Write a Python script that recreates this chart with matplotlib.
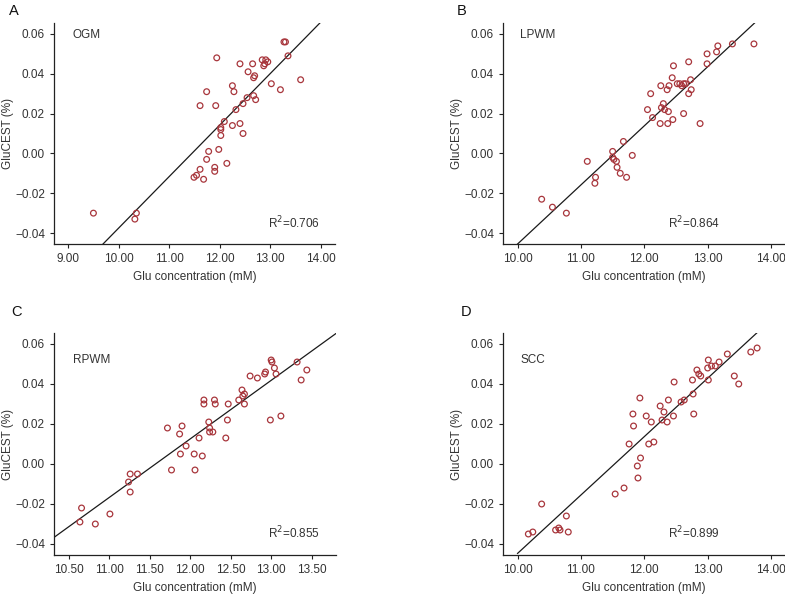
import matplotlib
matplotlib.use('Agg')
import matplotlib.pyplot as plt
import numpy as np

# panel A - OGM
ogm_x = [9.50, 10.35, 10.32, 11.49, 11.54, 11.61, 11.68, 11.74, 11.78, 11.90, 11.90, 11.98,
         12.14, 12.02, 12.02, 12.02, 12.09, 12.25, 12.40, 12.46, 12.46, 12.32, 12.54, 12.67,
         12.71, 11.61, 11.92, 11.74, 12.28, 12.25, 11.94, 12.40, 12.65, 12.56, 12.67, 12.69,
         12.84, 12.91, 12.87, 12.89, 12.95, 13.02, 13.20, 13.27, 13.30, 13.35, 13.60]
ogm_y = [-0.030, -0.030, -0.033, -0.012, -0.011, -0.008, -0.013, -0.003, 0.001, -0.007, -0.009, 0.002,
         -0.005, 0.009, 0.012, 0.013, 0.016, 0.014, 0.015, 0.010, 0.025, 0.022, 0.028, 0.029,
         0.027, 0.024, 0.024, 0.031, 0.031, 0.034, 0.048, 0.045, 0.045, 0.041, 0.038, 0.039,
         0.047, 0.047, 0.044, 0.045, 0.046, 0.035, 0.032, 0.056, 0.056, 0.049, 0.037]

# panel B - LPWM
lpwm_x = [10.38, 10.55, 10.77, 11.10, 11.23, 11.22, 11.50, 11.50, 11.52, 11.56, 11.57, 11.62,
          11.72, 11.67, 11.81, 12.05, 12.10, 12.13, 12.25, 12.26, 12.27, 12.30, 12.32, 12.36,
          12.37, 12.39, 12.38, 12.44, 12.45, 12.46, 12.52, 12.56, 12.59, 12.62, 12.65, 12.62,
          12.70, 12.70, 12.73, 12.74, 12.88, 12.99, 12.99, 13.14, 13.16, 13.39, 13.73]
lpwm_y = [-0.023, -0.027, -0.030, -0.004, -0.012, -0.015, 0.001, -0.002, -0.003, -0.004, -0.007, -0.010,
          -0.012, 0.006, -0.001, 0.022, 0.030, 0.018, 0.015, 0.034, 0.023, 0.025, 0.022, 0.032,
          0.015, 0.034, 0.021, 0.038, 0.017, 0.044, 0.035, 0.035, 0.034, 0.035, 0.035, 0.020,
          0.046, 0.030, 0.037, 0.032, 0.015, 0.050, 0.045, 0.051, 0.054, 0.055, 0.055]

# panel C - RPWM
rpwm_x = [10.64, 10.66, 10.83, 11.01, 11.24, 11.26, 11.26, 11.35, 11.72, 11.77, 11.87, 11.88,
          11.90, 11.95, 12.05, 12.06, 12.11, 12.15, 12.17, 12.17, 12.23, 12.24, 12.24, 12.28,
          12.30, 12.31, 12.44, 12.46, 12.47, 12.60, 12.64, 12.65, 12.67, 12.67, 12.74, 12.83,
          12.92, 12.93, 12.99, 13.00, 13.01, 13.04, 13.06, 13.12, 13.32, 13.37, 13.44]
rpwm_y = [-0.029, -0.022, -0.030, -0.025, -0.009, -0.005, -0.014, -0.005, 0.018, -0.003, 0.015, 0.005,
          0.019, 0.009, 0.005, -0.003, 0.013, 0.004, 0.032, 0.030, 0.021, 0.018, 0.016, 0.016,
          0.032, 0.030, 0.013, 0.022, 0.030, 0.032, 0.037, 0.034, 0.035, 0.030, 0.044, 0.043,
          0.045, 0.046, 0.022, 0.052, 0.051, 0.048, 0.045, 0.024, 0.051, 0.042, 0.047]

# panel D - SCC
scc_x = [10.17, 10.24, 10.38, 10.60, 10.65, 10.67, 10.77, 10.80, 11.54, 11.68, 11.76, 11.82,
         11.83, 11.89, 11.90, 11.93, 11.94, 12.03, 12.07, 12.11, 12.15, 12.25, 12.28, 12.31,
         12.36, 12.38, 12.46, 12.47, 12.58, 12.63, 12.76, 12.77, 12.78, 12.83, 12.86, 12.89,
         13.00, 13.01, 13.01, 13.06, 13.12, 13.18, 13.31, 13.42, 13.49, 13.68, 13.78]
scc_y = [-0.035, -0.034, -0.020, -0.033, -0.032, -0.033, -0.026, -0.034, -0.015, -0.012, 0.010, 0.025,
         0.019, -0.001, -0.007, 0.033, 0.003, 0.024, 0.010, 0.021, 0.011, 0.029, 0.022, 0.026,
         0.021, 0.032, 0.024, 0.041, 0.031, 0.032, 0.042, 0.035, 0.025, 0.047, 0.045, 0.044,
         0.048, 0.042, 0.052, 0.049, 0.049, 0.051, 0.055, 0.044, 0.040, 0.056, 0.058]

# fit lines: (slope, value at x0, x0)
fits = [(0.02587, -0.0455, 9.69), (0.02968, -0.0455, 10.00),
        (0.0293, -0.0367, 10.32), (0.0292, -0.0447, 10.00)]
names = ['OGM', 'LPWM', 'RPWM', 'SCC']
r2 = ['0.706', '0.864', '0.855', '0.899']
letters = ['A', 'B', 'C', 'D']
xlims = [(8.72, 14.28), (9.77, 14.22), (10.32, 13.80), (9.77, 14.22)]
xticks = [[9, 10, 11, 12, 13, 14], [10, 11, 12, 13, 14],
          [10.5, 11, 11.5, 12, 12.5, 13, 13.5], [10, 11, 12, 13, 14]]
xs = [ogm_x, lpwm_x, rpwm_x, scc_x]
ys = [ogm_y, lpwm_y, rpwm_y, scc_y]

W, H = 785, 595
# axes boxes in pixels: left, top, right, bottom
boxes = [(54, 23, 335, 244), (503, 23, 785, 244), (54, 333, 336, 555), (503, 333, 785, 555)]
name_pos = [(0.066, 0.946), (0.06, 0.946), (0.066, 0.878), (0.063, 0.878)]
r2_pos = [(0.76, 0.095), (0.585, 0.095), (0.76, 0.10), (0.585, 0.10)]
letter_pos = [(9, 4), (457, 4), (11, 305), (461, 305)]

red = '#a8363c'
txt = '#333333'
plt.rcParams['font.family'] = ['Liberation Sans', 'DejaVu Sans']

fig = plt.figure(figsize=(W / 100, H / 100), dpi=100)
for i in range(4):
    l, t, r, b = boxes[i]
    ax = fig.add_axes([l / W, 1 - b / H, (r - l) / W, (b - t) / H])
    ax.scatter(xs[i], ys[i], s=17, facecolors='none', edgecolors=red, linewidths=0.9, zorder=3)
    slope, y0, x0 = fits[i]
    lx = np.array([x0, xlims[i][1] + 1])
    ax.plot(lx, y0 + slope * (lx - x0), color='#1a1a1a', lw=0.9)
    ax.set_xlim(*xlims[i])
    ax.set_ylim(-0.0455, 0.0655)
    ax.set_xticks(xticks[i])
    ax.set_xticklabels(['%.2f' % v for v in xticks[i]])
    yt = [-0.04, -0.02, 0.0, 0.02, 0.04, 0.06]
    ax.set_yticks(yt)
    ax.set_yticklabels([('%.2f' % v).replace('-', '\u2212') for v in yt])
    for s in ['top', 'right']:
        ax.spines[s].set_visible(False)
    for s in ['left', 'bottom']:
        ax.spines[s].set_color('#222222')
        ax.spines[s].set_linewidth(0.9)
    ax.tick_params(direction='out', length=3, width=0.8, colors='#222222',
                   labelcolor=txt, labelsize=8.5)
    ax.set_xlabel('Glu concentration (mM)', fontsize=8.5, color=txt, labelpad=4)
    ax.set_ylabel('GluCEST (%)', fontsize=8.5, color=txt, labelpad=1)
    ax.text(name_pos[i][0], name_pos[i][1], names[i], transform=ax.transAxes,
            fontsize=8.5, color=txt, va='center')
    ax.text(r2_pos[i][0], r2_pos[i][1], 'R$^2$=' + r2[i], transform=ax.transAxes,
            fontsize=8.5, color=txt, va='center')
    fig.text(letter_pos[i][0] / W, 1 - letter_pos[i][1] / H, letters[i],
             fontsize=10.5, color='#111111', va='top', ha='left')

fig.savefig('out.png', dpi=100)
